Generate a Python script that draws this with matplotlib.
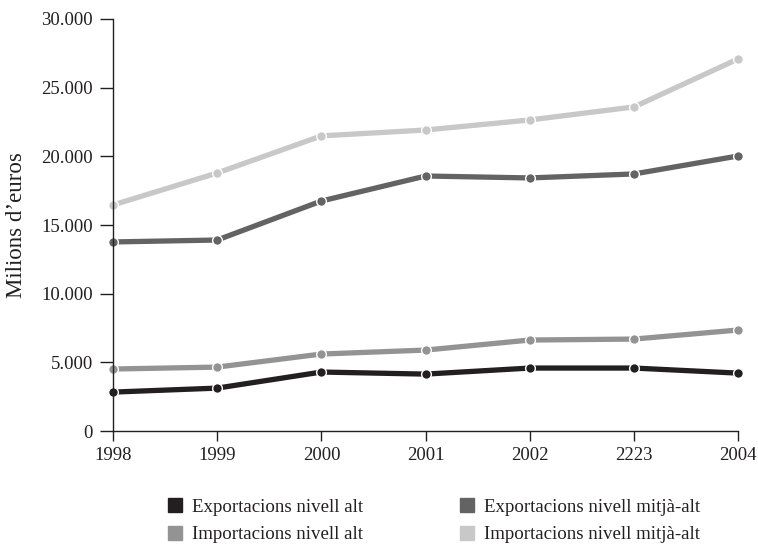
import matplotlib.pyplot as plt
from matplotlib.ticker import FuncFormatter
from matplotlib.lines import Line2D

plt.rcParams['font.family'] = ['Liberation Serif', 'DejaVu Serif']

years = ['1998', '1999', '2000', '2001', '2002', '2223', '2004']
exp_alt = [2840, 3130, 4300, 4150, 4590, 4590, 4220]
imp_alt = [4520, 4660, 5610, 5900, 6630, 6700, 7360]
exp_mitja = [13770, 13910, 16750, 18570, 18430, 18720, 20030]
imp_mitja = [16460, 18790, 21490, 21920, 22650, 23600, 27100]

series = [
    ('Exportacions nivell alt', exp_alt, '#231f20'),
    ('Importacions nivell alt', imp_alt, '#939393'),
    ('Exportacions nivell mitjà-alt', exp_mitja, '#636363'),
    ('Importacions nivell mitjà-alt', imp_mitja, '#c8c8c8'),
]

fig = plt.figure(figsize=(7.58, 5.52), dpi=100)
ax = fig.add_axes([0.149, 0.219, 0.825, 0.7466])

x = range(len(years))
for name, vals, col in series:
    ax.plot(x, vals, color=col, lw=3.8, marker='o', ms=7,
            mec='white', mew=1.0, solid_capstyle='butt', clip_on=False)

ax.set_xlim(0, len(years) - 1)
ax.set_ylim(0, 30000)
ax.set_xticks(list(x))
ax.set_xticklabels(years)
ax.set_yticks(range(0, 30001, 5000))
ax.yaxis.set_major_formatter(FuncFormatter(lambda v, p: f'{int(v):,}'.replace(',', '.')))
ax.spines['top'].set_visible(False)
ax.spines['right'].set_visible(False)
for s in ('left', 'bottom'):
    ax.spines[s].set_color('#231f20')
    ax.spines[s].set_linewidth(1.0)
ax.tick_params(axis='both', direction='out', width=1.0,
               labelsize=13.5, colors='#231f20')
ax.tick_params(axis='y', length=9.5, pad=5)
ax.tick_params(axis='x', length=7.5, pad=4)
ax.set_ylabel('Milions d’euros', fontsize=16.5, color='#231f20')
ax.yaxis.set_label_coords(-0.138, 0.5)

handles = [Line2D([], [], ls='none', marker='s', ms=10, color=c, mec=c)
           for _, _, c in series]
labels = [n for n, _, _ in series]
fig.legend(handles, labels, loc='upper left', bbox_to_anchor=(0.2183, 0.097),
           ncol=2, frameon=False, fontsize=13.6, columnspacing=5.0,
           handletextpad=0.4, labelspacing=0.55, handlelength=1.0,
           borderaxespad=0, borderpad=0, labelcolor='#231f20')

fig.savefig('out.png', dpi=100)
